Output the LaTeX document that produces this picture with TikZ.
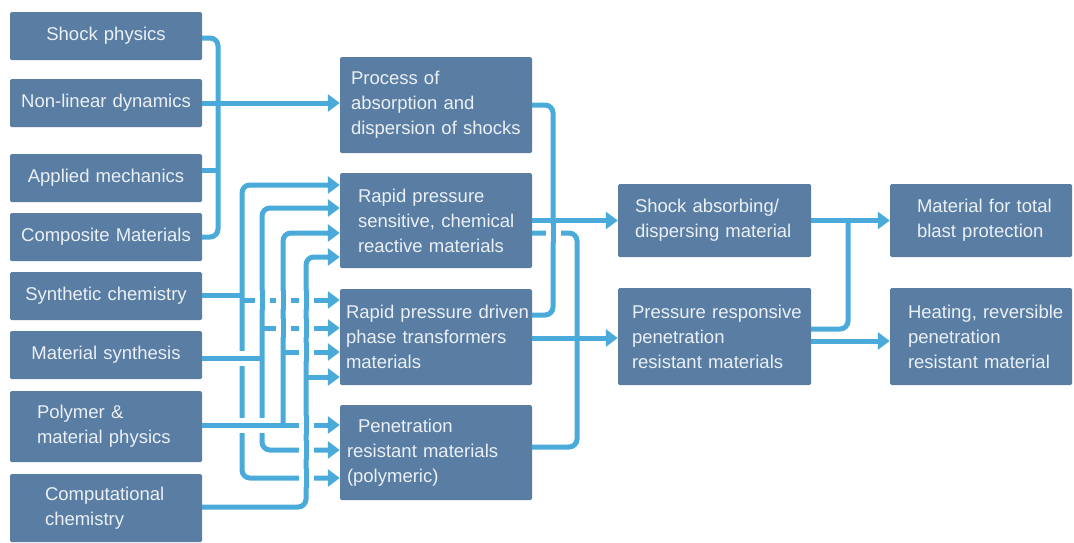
\documentclass[tikz,border=0pt]{standalone}
\usepackage{fontspec}
\setmainfont{Liberation Sans}[HyphenChar=None]
\usetikzlibrary{arrows.meta}
\definecolor{boxc}{HTML}{5A7EA3}
\definecolor{txtc}{HTML}{EAF0F5}
\definecolor{linkc}{HTML}{4AABDB}
\newcommand\vbridge[2]{\draw[white,line width=15pt] (#1,#2-9) -- (#1,#2+9); \draw[link] (#1,#2-10) -- (#1,#2+10);}
\newcommand\hbridge[2]{\draw[white,line width=15pt] (#1-9,#2) -- (#1+9,#2); \draw[link] (#1-10,#2) -- (#1+10,#2);}
\begin{document}
\begin{tikzpicture}[x=1pt,y=-1pt,
  bx/.style n args={4}{fill=boxc,text=txtc,rounded corners=1.5pt,
    minimum width=#1pt,minimum height=#2pt,inner xsep=#3pt,inner ysep=0pt,
    text width=#4pt,align=left,font=\fontsize{18.5}{25}\selectfont},
  cbx/.style={bx={192}{48}{5}{182},align=center},
  link/.style={draw=linkc,line width=5pt,rounded corners=8pt},
  arr/.style={link,-{Triangle[length=12pt,width=17pt]}}]
\useasboundingbox[fill=white] (0,0) rectangle (1074,542);

% left column
\node[cbx] (sp) at (106,36) {Shock physics};
\node[cbx] (nl) at (106,103) {Non-linear dynamics};
\node[cbx] (am) at (106,178) {Applied mechanics};
\node[cbx] (cm) at (106,237) {Composite Materials};
\node[cbx] (sc) at (106,296) {Synthetic chemistry};
\node[cbx] (ms) at (106,355) {Material synthesis};
\node[bx={192}{71}{27}{138}] (pm) at (106,426.5) {Polymer~\&\\material~physics};
\node[bx={192}{68}{35}{122}] (cc) at (106,508) {Computational\\chemistry};

% middle column
\node[bx={192}{96}{11}{170}] (pa) at (436,105) {Process~of\\absorption~and\\dispersion~of~shocks};
\node[bx={192}{95}{18}{156}] (rs) at (436,220.5) {Rapid~pressure\\sensitive,~chemical\\reactive~materials};
\node[bx={192}{96}{6}{180}] (rd) at (436,337) {Rapid~pressure~driven\\phase~transformers\\materials};
\node[bx={192}{95}{7}{178}] (pr) at (436,452.5) {\hspace*{11pt}Penetration\\resistant~materials\\(polymeric)};

% right columns
\node[bx={193}{73}{17}{159}] (sa) at (714.5,220.5) {Shock~absorbing/\\dispersing~material};
\node[bx={193}{97}{14}{165}] (prr) at (714.5,336.5) {Pressure~responsive\\penetration\\resistant~materials};
\node[bx={182}{73}{27}{128}] (ma) at (981,220.5) {Material~for~total\\blast~protection};
\node[bx={182}{97}{18}{146}] (he) at (981,336.5) {Heating,~reversible\\penetration\\resistant~material};

% top-left group
\draw[link] (sp.east|-0,38) -- (218,38) -- (218,237) -- (cm.east|-0,237);
\draw[link] (am.east|-0,170) -- (218,170);
\draw[arr] (nl.east) -- (nl.east-|pa.west);

% synthetic chemistry bus
\draw[link] (sc.east|-0,295) -- (242,295);
\draw[arr] (242,295) |- (rs.west|-0,185);
\draw[arr] (242,295) |- (pr.west|-0,478);
\draw[arr] (242,300) -- (rd.west|-0,300);

% material synthesis bus
\draw[link] (ms.east|-0,358) -- (262,358);
\draw[arr] (262,358) |- (rs.west|-0,208);
\draw[arr] (262,358) |- (pr.west|-0,450);
\draw[arr] (262,328) -- (rd.west|-0,328);

% polymer bus
\draw[arr] (pm.east|-0,425) -- (pr.west|-0,425);
\draw[arr] (283,425) |- (rs.west|-0,233);
\draw[arr] (283,352) -- (rd.west|-0,352);

% computational bus
\draw[arr] (cc.east|-0,507) -- (306,507) |- (rs.west|-0,257);
\draw[arr] (306,377) -- (rd.west|-0,377);

% crossings
\vbridge{262}{300}\vbridge{283}{300}\vbridge{306}{300}
\vbridge{283}{328}\vbridge{306}{328}\vbridge{306}{352}
\vbridge{306}{425}\vbridge{306}{450}\vbridge{306}{478}
\hbridge{242}{358}\hbridge{242}{425}\hbridge{262}{425}

% middle to right
\draw[link] (pa.east) -- (553,105) -- (553,315) -- (rd.east|-0,315);
\draw[arr] (rs.east) -- (sa.west);
\draw[link] (rs.east|-0,233) -- (577,233) -- (577,447) -- (pr.east|-0,447);
\draw[arr] (rd.east|-0,338) -- (prr.west|-0,338);
\vbridge{553}{233}

% right
\draw[arr] (sa.east) -- (ma.west);
\draw[link] (prr.east|-0,329) -- (848,329) -- (848,220.5);
\draw[arr] (prr.east|-0,341) -- (he.west|-0,341);
\end{tikzpicture}
\end{document}
